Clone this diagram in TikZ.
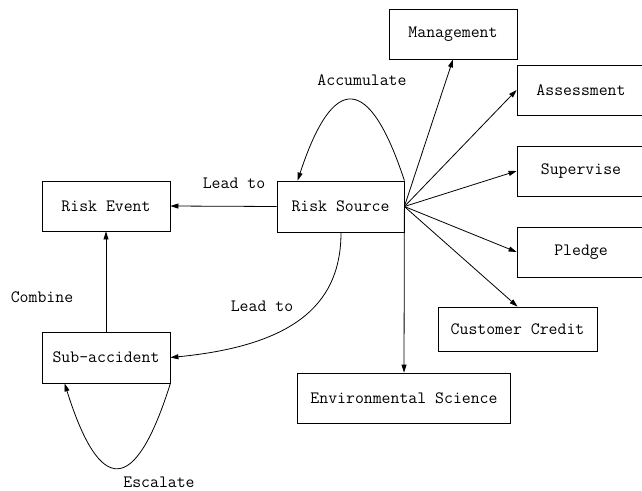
\documentclass[tikz,border=0pt]{standalone}
\usepackage{fontspec}
\usetikzlibrary{arrows.meta}
\tikzset{
    box/.style={draw, line width=0.8pt, inner sep=0pt, font=\ttfamily\fontsize{17.3}{20}\selectfont, minimum width=128pt, minimum height=50pt},
    lbl/.style={font=\ttfamily\fontsize{17.3}{20}\selectfont},
    link/.style={line width=0.8pt, -{Triangle[length=8pt,width=5pt]}},
}

\begin{document}
\begin{tikzpicture}[x=1pt, y=-1pt]
\useasboundingbox (0,0) rectangle (642,490);
\node[box] (mgmt) at (453,34) {Management};
\node[box] (assess) at (581,90) {Assessment};
\node[box] (superv) at (581,171) {Supervise};
\node[box] (pledge) at (581,252) {Pledge};
\node[box, minimum width=159pt, minimum height=44pt] (credit) at (517.5,329) {Customer Credit};
\node[box, minimum width=213pt] (env) at (404,398) {Environmental Science};
\node[box, minimum width=127pt, minimum height=51pt] (src) at (340.5,206.5) {Risk Source};
\node[box] (event) at (106,206) {Risk Event};
\node[box, minimum height=51pt] (sub) at (106,357.5) {Sub-accident};

\draw[link] (src.west) -- (event.east);
\draw[link] (sub.north) -- (event.south);
\draw[link] (src.east) -- (mgmt.south);
\draw[link] (src.east) -- (assess.west);
\draw[link] (src.east) -- (superv.west);
\draw[link] (src.east) -- (pledge.west);
\draw[link] (src.east) -- (credit.north);
\draw[link] (src.east) -- (env.north);
\draw[link] (src.north east) .. controls (369,73) and (333,73) .. ([xshift=21pt]src.north west);
\draw[link] (sub.south east) .. controls (135,496) and (100,496) .. ([xshift=23pt]sub.south west);
\draw[link] ([xshift=0.5pt]src.south) .. controls (341,300) and (300,345) .. (sub.east);

\node[lbl] (acc) at (362,80) {Accumulate};
\node[lbl] (lead1) at (234,183) {Lead to};
\node[lbl] (lead2) at (262,306) {Lead to};
\node[lbl] (comb) at (42,297) {Combine};
\node[lbl] (esc) at (159,482) {Escalate};
\end{tikzpicture}
\end{document}
